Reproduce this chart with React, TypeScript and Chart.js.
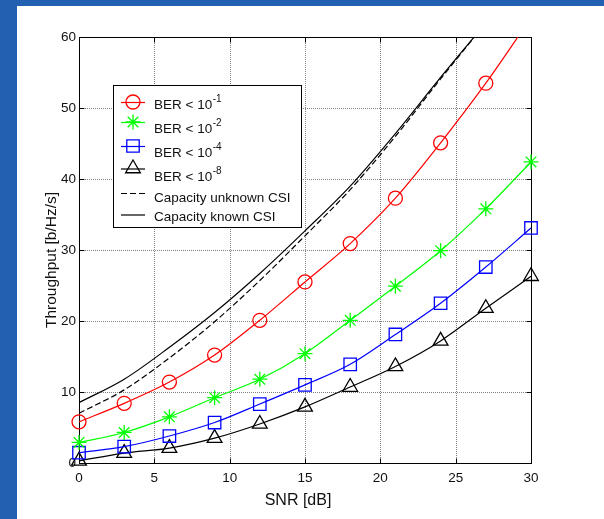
import React, { useEffect, useRef } from "react";
import { Chart, registerables } from "chart.js";

Chart.register(...registerables);

// ---- data ----
const snrDb = [0, 3, 6, 9, 12, 15, 18, 21, 24, 27, 30];
const ber1 = [5.8, 8.4, 11.4, 15.2, 20.1, 25.5, 30.9, 37.3, 45.1, 53.5, 62.7];
const ber2 = [2.9, 4.3, 6.5, 9.2, 11.8, 15.4, 20.1, 24.9, 29.9, 35.8, 42.4];
const ber4 = [1.45, 2.3, 3.8, 5.7, 8.3, 11.0, 13.9, 18.1, 22.5, 27.6, 33.1];
const ber8 = [0.3, 1.4, 2.1, 3.5, 5.5, 7.9, 10.7, 13.6, 17.2, 21.8, 26.3];
const capUnknown = [7.0, 10.3, 14.8, 19.9, 25.7, 32.0, 38.5, 46.0, 54.1, 62.0, 70.0];
const capKnown = [8.5, 11.8, 16.3, 21.2, 26.7, 32.7, 39.0, 46.4, 54.3, 62.0, 70.0];
const seriesLabels = ["BER < 10^-1", "BER < 10^-2", "BER < 10^-4", "BER < 10^-8", "Capacity unknown CSI", "Capacity known CSI"];
const xTitle = "SNR [dB]";
const yTitle = "Throughput [b/Hz/s]";

const FONT = "'Liberation Sans', Arial, Helvetica, sans-serif";

function drawMarker(ctx: CanvasRenderingContext2D, style: string, x: number, y: number, r: number, color: string) {
  ctx.save();
  ctx.strokeStyle = color;
  ctx.lineWidth = 1.3;
  ctx.setLineDash([]);
  ctx.beginPath();
  if (style === "circle") {
    ctx.arc(x, y, r, 0, Math.PI * 2);
  } else if (style === "star") {
    for (let k = 0; k < 4; k++) {
      const a = (k * Math.PI) / 4;
      ctx.moveTo(x + Math.cos(a) * r, y + Math.sin(a) * r);
      ctx.lineTo(x - Math.cos(a) * r, y - Math.sin(a) * r);
    }
  } else if (style === "rect") {
    const s = r * Math.SQRT1_2;
    ctx.rect(x - s, y - s, 2 * s, 2 * s);
  } else if (style === "triangle") {
    let a = 0;
    ctx.moveTo(x + Math.sin(a) * r, y - Math.cos(a) * r);
    a += (2 * Math.PI) / 3;
    ctx.lineTo(x + Math.sin(a) * r, y - Math.cos(a) * r);
    a += (2 * Math.PI) / 3;
    ctx.lineTo(x + Math.sin(a) * r, y - Math.cos(a) * r);
    ctx.closePath();
  }
  ctx.stroke();
  ctx.restore();
}

const customPlugin = {
  id: "matlabLook",
  beforeDraw(chart: any) {
    const ctx = chart.ctx as CanvasRenderingContext2D;
    ctx.save();
    ctx.fillStyle = "#2460b2";
    ctx.fillRect(0, 0, chart.width, chart.height);
    ctx.fillStyle = "#ffffff";
    ctx.fillRect(17, 6, chart.width - 17, chart.height - 6);
    ctx.restore();
  },
  beforeDatasetsDraw(chart: any) {
    const ctx = chart.ctx as CanvasRenderingContext2D;
    const { left, right, top, bottom } = chart.chartArea;
    const xs = chart.scales.x;
    const ys = chart.scales.y;
    ctx.save();
    // dotted grid
    ctx.strokeStyle = "#808080";
    ctx.lineWidth = 1;
    ctx.setLineDash([1, 1]);
    ctx.beginPath();
    xs.ticks.forEach((t: any) => {
      const px = Math.round(xs.getPixelForValue(t.value)) + 0.5;
      ctx.moveTo(px, top);
      ctx.lineTo(px, bottom);
    });
    ys.ticks.forEach((t: any) => {
      const py = Math.round(ys.getPixelForValue(t.value)) + 0.5;
      ctx.moveTo(left, py);
      ctx.lineTo(right, py);
    });
    ctx.stroke();
    // frame and inward ticks
    ctx.setLineDash([]);
    ctx.strokeStyle = "#000";
    ctx.lineWidth = 1;
    const L = Math.round(left) + 0.5, R = Math.round(right) + 0.5;
    const T = Math.round(top) + 0.5, B = Math.round(bottom) + 0.5;
    ctx.strokeRect(L, T, R - L, B - T);
    ctx.beginPath();
    const tl = 5;
    xs.ticks.forEach((t: any) => {
      const px = Math.round(xs.getPixelForValue(t.value)) + 0.5;
      ctx.moveTo(px, B); ctx.lineTo(px, B - tl);
      ctx.moveTo(px, T); ctx.lineTo(px, T + tl);
    });
    ys.ticks.forEach((t: any) => {
      const py = Math.round(ys.getPixelForValue(t.value)) + 0.5;
      ctx.moveTo(L, py); ctx.lineTo(L + tl, py);
      ctx.moveTo(R, py); ctx.lineTo(R - tl, py);
    });
    ctx.stroke();
    ctx.restore();
  },
  afterDraw(chart: any) {
    const ctx = chart.ctx as CanvasRenderingContext2D;
    ctx.save();
    // axis titles
    ctx.fillStyle = "#111";
    ctx.textAlign = "center";
    ctx.textBaseline = "middle";
    ctx.font = `16px ${FONT}`;
    ctx.fillText(xTitle, 298, 501);
    ctx.save();
    ctx.translate(52, 260);
    ctx.rotate(-Math.PI / 2);
    ctx.font = `15.5px ${FONT}`;
    ctx.fillText(yTitle, 0, 0);
    ctx.restore();

    // legend box
    const bx = 113.5, by = 85.5, bw = 188, bh = 142;
    ctx.fillStyle = "#fff";
    ctx.fillRect(bx, by, bw, bh);
    ctx.strokeStyle = "#000";
    ctx.lineWidth = 1;
    ctx.setLineDash([]);
    ctx.strokeRect(bx, by, bw, bh);

    const markerY = [102, 122, 146, 168.5, 193, 214.5];
    const textY = [105, 129.5, 153.5, 177.5, 198, 217];
    const supY = [99.5, 123.5, 147.5, 171.5, 0, 0];
    chart.data.datasets.forEach((ds: any, i: number) => {
      const my = markerY[i];
      ctx.save();
      ctx.strokeStyle = ds.borderColor;
      ctx.lineWidth = ds.borderWidth;
      ctx.setLineDash(ds.borderDash || []);
      ctx.beginPath();
      ctx.moveTo(121, my + 0.5);
      ctx.lineTo(145, my + 0.5);
      ctx.stroke();
      ctx.restore();
      if (ds.pointRadius > 0) drawMarker(ctx, ds.pointStyle, 133, my, ds.pointRadius, ds.borderColor);
      const [base, sup] = String(ds.label).split("^");
      ctx.fillStyle = "#111";
      ctx.textAlign = "left";
      ctx.textBaseline = "middle";
      ctx.font = `13.5px ${FONT}`;
      ctx.fillText(base, 154, textY[i]);
      if (sup) {
        const w = ctx.measureText(base).width;
        ctx.font = `10px ${FONT}`;
        ctx.fillText(sup, 154 + w + 0.5, supY[i]);
      }
    });
    ctx.restore();
  },
};

export default function App() {
  const ref = useRef<HTMLCanvasElement | null>(null);
  useEffect(() => {
    if (!ref.current) return;
    const clip = { left: 20, right: 20, top: 0, bottom: 20 };
    const mk = (label: string, data: number[], color: string, style: string, radius: number, dash?: number[]) => ({
      label,
      data: snrDb.map((x, i) => ({ x, y: data[i] })),
      borderColor: color,
      backgroundColor: "transparent",
      borderWidth: 1.2,
      borderDash: dash || [],
      pointStyle: style,
      pointRadius: radius,
      pointBorderWidth: 1.3,
      pointBackgroundColor: "transparent",
      pointBorderColor: color,
      cubicInterpolationMode: "monotone",
      fill: false,
      clip,
    });
    const chart = new Chart(ref.current, {
      type: "line",
      data: {
        datasets: [
          mk(seriesLabels[0], ber1, "#ff0000", "circle", 7),
          mk(seriesLabels[1], ber2, "#00ff00", "star", 7.5),
          mk(seriesLabels[2], ber4, "#0000ff", "rect", 8.8),
          mk(seriesLabels[3], ber8, "#000000", "triangle", 8.5),
          mk(seriesLabels[4], capUnknown, "#000000", "circle", 0, [6, 3]),
          mk(seriesLabels[5], capKnown, "#000000", "circle", 0),
        ] as any,
      },
      options: {
        responsive: false,
        animation: false,
        events: [],
        layout: { padding: { left: 0, top: 37, right: 73, bottom: 0 } },
        plugins: { legend: { display: false }, tooltip: { enabled: false }, title: { display: false } },
        scales: {
          x: {
            type: "linear",
            min: 0,
            max: 30,
            grid: { display: false, drawTicks: false },
            border: { display: false },
            ticks: { stepSize: 5, color: "#111", font: { family: FONT, size: 13.5 }, padding: 7, maxRotation: 0 },
            afterFit: (s: any) => { s.height = 56; },
          },
          y: {
            type: "linear",
            min: 0,
            max: 60,
            grid: { display: false, drawTicks: false },
            border: { display: false },
            ticks: { stepSize: 10, color: "#111", font: { family: FONT, size: 13.5 }, padding: 3 },
            afterFit: (s: any) => { s.width = 79; },
          },
        },
      },
      plugins: [customPlugin],
    });
    return () => chart.destroy();
  }, []);
  return (
    <div style={{ position: "fixed", left: 0, top: 0, width: 604, height: 519 }}>
      <canvas ref={ref} width={604} height={519} style={{ display: "block" }} />
    </div>
  );
}
